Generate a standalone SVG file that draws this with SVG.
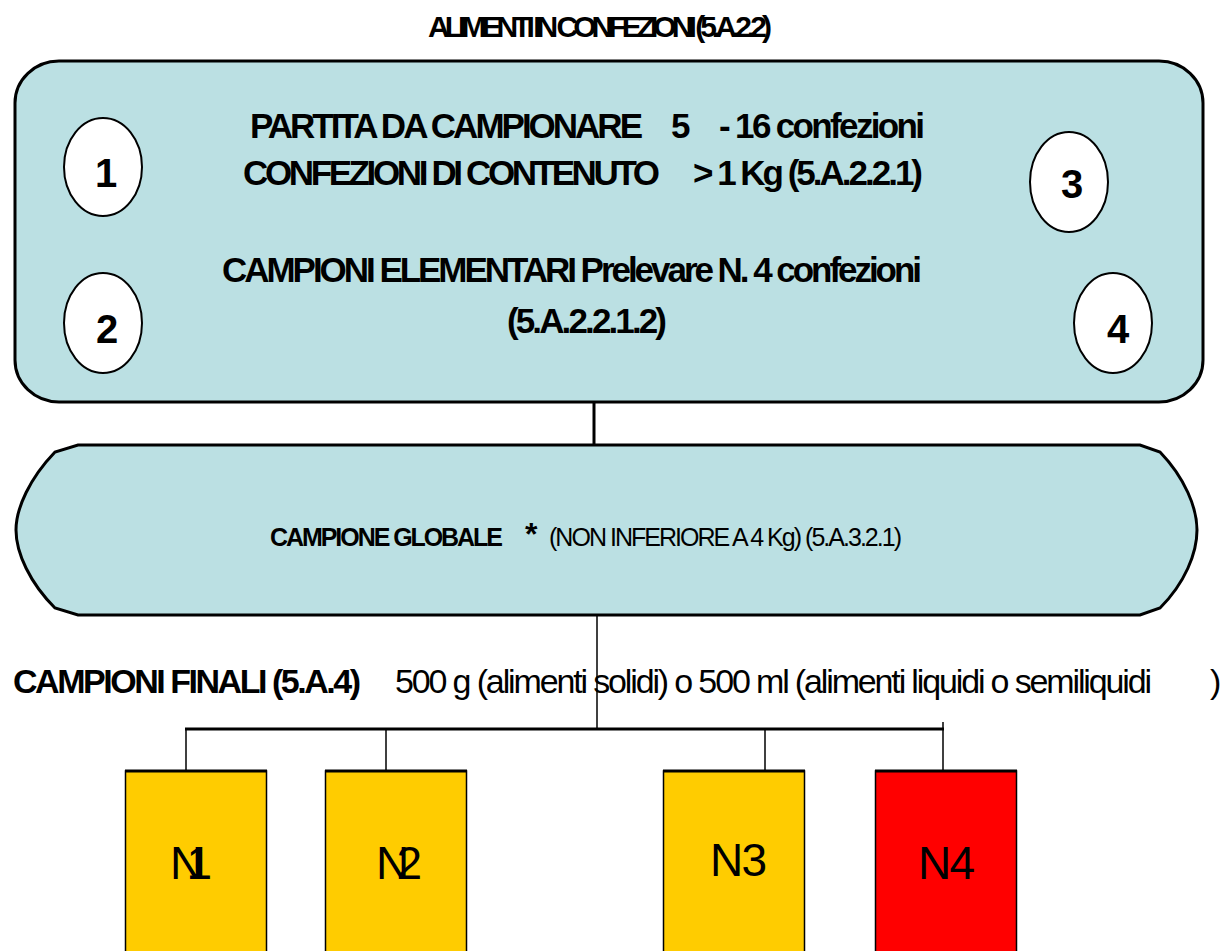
<svg xmlns="http://www.w3.org/2000/svg" width="1228" height="951" viewBox="0 0 1228 951">
  <style>
    text { font-family: "Liberation Sans", Arial, sans-serif; fill: #000; }
    .b { font-weight: bold; }
    .panel { fill: #BBE0E3; stroke: #000; stroke-width: 3; }
    .badge { fill: #fff; stroke: #000; stroke-width: 2; }
    .num { font-size: 40px; font-weight: bold; text-anchor: middle; }
    .lbl { font-size: 46px; }
    .yellow { fill: #FFCC00; stroke: #000; stroke-width: 1.5; }
    .red { fill: #FF0000; stroke: #000; stroke-width: 1.5; }
    .thick { stroke: #000; stroke-width: 3; fill: none; }
    .thin { stroke: #000; stroke-width: 1.5; fill: none; }
  </style>

  <!-- heading -->
  <text class="b" x="428" y="37" font-size="30" textLength="344" lengthAdjust="spacing">ALIMENTI IN CONFEZIONI (5.A.2.2)</text>

  <!-- lot / elementary samples panel -->
  <g id="partita">
    <rect class="panel" x="15" y="61" width="1188" height="341" rx="44" ry="42"/>
    <g id="badge1">
      <ellipse class="badge" cx="103" cy="167" rx="39" ry="49"/>
      <text class="num" x="106" y="187">1</text>
    </g>
    <g id="badge2">
      <ellipse class="badge" cx="103" cy="323" rx="39" ry="50"/>
      <text class="num" x="107" y="343">2</text>
    </g>
    <g id="badge3">
      <ellipse class="badge" cx="1069" cy="182" rx="39" ry="50"/>
      <text class="num" x="1072" y="198">3</text>
    </g>
    <g id="badge4">
      <ellipse class="badge" cx="1113" cy="323" rx="39" ry="50"/>
      <text class="num" x="1118" y="343">4</text>
    </g>
    <text class="b" font-size="35" y="138">
      <tspan x="250" textLength="393" lengthAdjust="spacing">PARTITA DA CAMPIONARE</tspan>
      <tspan x="671">5</tspan>
      <tspan x="719" textLength="206" lengthAdjust="spacing">- 16 confezioni</tspan>
    </text>
    <text class="b" font-size="35" y="185">
      <tspan x="243" textLength="417" lengthAdjust="spacing">CONFEZIONI DI CONTENUTO</tspan>
      <tspan x="693" textLength="230" lengthAdjust="spacing">&gt; 1 Kg (5.A.2.2.1)</tspan>
    </text>
    <text class="b" font-size="35" x="222" y="282" textLength="700" lengthAdjust="spacing">CAMPIONI ELEMENTARI Prelevare N. 4 confezioni</text>
    <text class="b" font-size="35" x="507" y="333" textLength="160" lengthAdjust="spacing">(5.A.2.2.1.2)</text>
  </g>

  <!-- bulk sample panel -->
  <g id="globale">
    <path class="panel" d="M78,445 H1140 L1160,452 C1185,478 1197,508 1197,530 C1197,553 1185,583 1160,608 L1140,615 H78 L55,608 C30,583 16,553 16,530 C16,508 30,478 55,452 Z"/>
    <text class="b" font-size="25" x="270" y="546" textLength="233" lengthAdjust="spacing">CAMPIONE GLOBALE</text>
    <text class="b" font-size="32" x="525" y="545">*</text>
    <text font-size="25" x="549" y="546" textLength="353" lengthAdjust="spacing">(NON INFERIORE A 4 Kg) (5.A.3.2.1)</text>
  </g>

  <!-- final samples caption -->
  <g id="finali">
    <text class="b" font-size="34" x="13" y="693" textLength="348" lengthAdjust="spacing">CAMPIONI FINALI (5.A.4)</text>
    <text font-size="34" x="395" y="693" textLength="757" lengthAdjust="spacing">500 g (alimenti solidi) o 500 ml (alimenti liquidi o semiliquidi</text>
    <text font-size="34" x="1210" y="693">)</text>
  </g>

  <!-- connectors -->
  <g id="connectors">
    <line class="thick" x1="594" y1="402" x2="594" y2="446"/>
    <line class="thin" x1="597" y1="615" x2="597" y2="729"/>
    <line class="thick" x1="185" y1="729" x2="944" y2="729"/>
    <line class="thin" x1="186" y1="729" x2="186" y2="771"/>
    <line class="thin" x1="386" y1="729" x2="386" y2="771"/>
    <line class="thin" x1="765" y1="729" x2="765" y2="771"/>
    <line class="thin" x1="943" y1="722" x2="943" y2="771"/>
  </g>

  <!-- final sample containers -->
  <g id="n1">
    <rect class="yellow" x="125.5" y="771" width="141" height="190"/>
    <line class="thick" x1="125" y1="771" x2="267" y2="771"/>
    <text class="lbl" x="170" y="879" textLength="42" lengthAdjust="spacing">N1</text>
  </g>
  <g id="n2">
    <rect class="yellow" x="325.5" y="771" width="141" height="190"/>
    <line class="thick" x1="325" y1="771" x2="467" y2="771"/>
    <text class="lbl" x="376" y="879" textLength="46" lengthAdjust="spacing">N2</text>
  </g>
  <g id="n3">
    <rect class="yellow" x="663.5" y="771" width="141" height="190"/>
    <line class="thick" x1="663" y1="771" x2="805" y2="771"/>
    <text class="lbl" x="710" y="876" textLength="57" lengthAdjust="spacing">N3</text>
  </g>
  <g id="n4">
    <rect class="red" x="875.5" y="771" width="141" height="190"/>
    <line class="thick" x1="875" y1="771" x2="1017" y2="771"/>
    <text class="lbl" x="918" y="879" textLength="57" lengthAdjust="spacing">N4</text>
  </g>
</svg>
